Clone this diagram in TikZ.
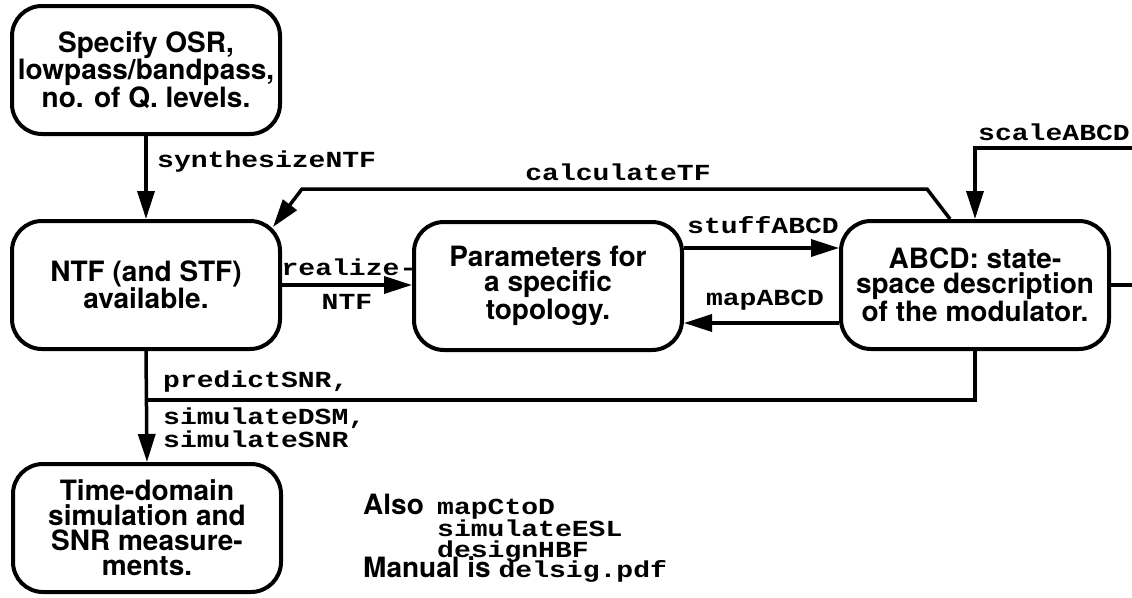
\documentclass[tikz,border=0pt]{standalone}
\usepackage{fontspec}
\setmainfont{TeX Gyre Heros}
\newfontfamily\cmono{Liberation Mono}[FakeStretch=1.22]
\usetikzlibrary{arrows.meta,calc}

\tikzset{
  stage/.style={draw, line width=4pt, rounded corners=30pt,
    minimum width=268pt, minimum height=128pt, inner sep=0pt,
    align=center, font=\fontsize{28}{25}\selectfont\bfseries},
  flow/.style={line width=3.5pt},
  arr/.style={flow, -{Triangle[length=28pt,width=17pt]}},
  fn/.style={font=\fontsize{23}{23}\selectfont\cmono\bfseries, inner sep=0pt},
  note/.style={font=\fontsize{28}{22}\selectfont\bfseries, inner sep=0pt},
}

\begin{document}
\begin{tikzpicture}[x=1pt, y=-1pt]
  \fill[white] (0,0) rectangle (1132,597);
  \useasboundingbox (0,0) rectangle (1132,597);

  % stages of the design flow
  \node[stage] (spec)   at (146,70)  {Specify OSR,\\lowpass/bandpass,\\no. of Q. levels.};
  \node[stage] (ntf)    at (146,285) {NTF (and STF)\\available.};
  \node[stage] (params) at (548,286) {Parameters for\\a specific\\topology.};
  \node[stage] (abcd)   at (975,285) {ABCD: state-\\space description\\of the modulator.};
  \node[stage] (sim)    at (147,528) {Time-domain\\simulation and\\SNR measure-\\ments.};

  % synthesizeNTF
  \draw[arr] (spec.south) -- (ntf.north);
  \node[fn, anchor=west] (lsyn) at (157,162) {synthesizeNTF};

  % calculateTF: from the ABCD stage back to the NTF stage
  \coordinate (ctf0) at ($(abcd.north west)+(111,0)$);
  \coordinate (ctf1) at (927,189);
  \coordinate (ctf2) at (302,189);
  \coordinate (ctf3) at ($(ntf.north east)+(-9,8)$);
  \draw[arr, line join=miter] (ctf0) -- (ctf1) -- (ctf2) -- (ctf3);
  \node[fn] (lctf) at (618,172) {calculateTF};

  % scaleABCD: enters from the right
  \coordinate (scin) at (1132,148);
  \draw[arr] (scin) -- (scin -| abcd.north) -- (abcd.north);
  \node[fn] (lscale) at (1054,132) {scaleABCD};

  % output leaving to the right
  \coordinate (rout) at (1132,285);
  \draw[flow] (abcd.east) -- (rout);

  % realizeNTF
  \draw[arr] (ntf.east) -- (ntf.east -| params.west);
  \node[fn] (lreal1) at (349,267) {realize-};
  \node[fn] (lreal2) at (347,302) {NTF};

  % stuffABCD / mapABCD
  \coordinate (st) at ($(params.east)+(0,-38)$);
  \draw[arr] (st) -- (st -| abcd.west);
  \node[fn] (lstuff) at (763,225) {stuffABCD};
  \coordinate (mp) at ($(abcd.west)+(0,38)$);
  \draw[arr] (mp) -- (mp -| params.east);
  \node[fn] (lmap) at (765,300) {mapABCD};

  % simulation path
  \draw[arr] (ntf.south) -- (sim.north);
  \draw[flow] (abcd.south) -- ++(0,49) coordinate (pb) -- (pb -| ntf.south);
  \node[fn, anchor=west] (lpred) at (163,382) {predictSNR,};
  \node[fn, anchor=west, align=left] (lsim) at (163,428) {simulateDSM,\\simulateSNR};

  % additional notes
  \node[note, anchor=base west] (also) at (363,514) {Also};
  \node[fn, anchor=base west] (extra1) at (437,514) {mapCtoD};
  \node[fn, anchor=base west] (extra2) at (437,536) {simulateESL};
  \node[fn, anchor=base west] (extra3) at (437,557) {designHBF};
  \node[note, anchor=base west] (manual) at (363,577)
    {Manual is {\fontsize{23}{22}\selectfont\cmono\bfseries delsig.pdf}};
\end{tikzpicture}
\end{document}
